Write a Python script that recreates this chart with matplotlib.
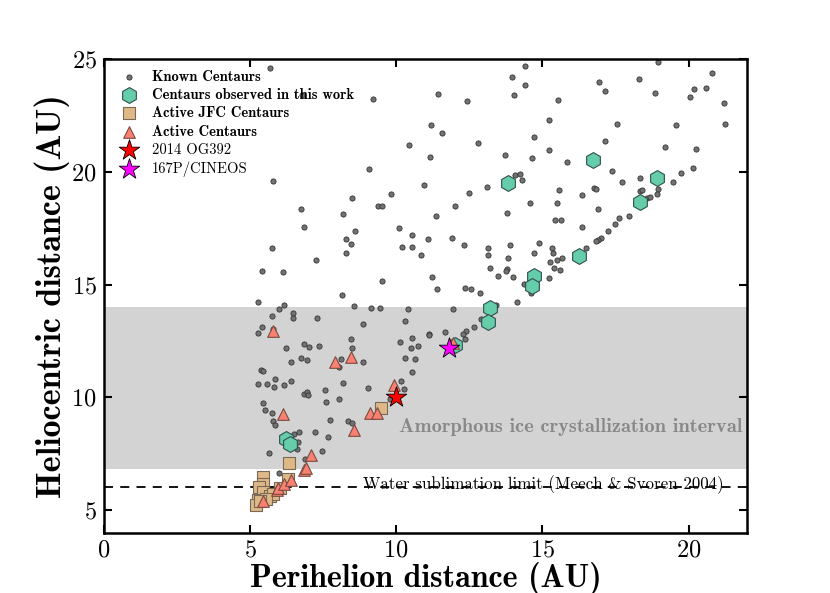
import numpy as np
import matplotlib
matplotlib.use("Agg")
import matplotlib.pyplot as plt

plt.rcParams['mathtext.fontset'] = 'cm'
plt.rcParams['axes.formatter.use_mathtext'] = True

# known centaurs (perihelion AU, heliocentric distance AU)
known_q = [14.41, 18.94, 20.79, 13.95, 16.94, 18.31, 20.18, 20.60, 11.44, 14.40, 17.13, 18.85, 20.06, 14.03,
           21.23, 12.43, 15.55, 15.23, 17.56, 19.56, 21.26, 11.18, 11.58, 14.70, 12.80, 17.15, 19.19, 20.26,
           11.15, 13.71, 15.23, 14.65, 15.83, 17.39, 20.17, 19.74, 14.08, 14.25, 14.29, 17.72, 18.35, 19.48,
           10.96, 13.11, 15.58, 16.77, 16.82, 18.33, 18.42, 18.95, 12.49, 16.34, 18.91, 18.58, 18.67, 14.58,
           15.51, 12.00, 13.80, 16.89, 11.36, 15.42, 15.65, 17.97, 17.63, 17.49, 16.36, 17.25, 11.08, 11.90,
           16.99, 16.91, 16.82, 12.31, 13.89, 14.90, 16.51, 10.85, 13.13, 13.13, 15.34, 15.38, 13.83, 14.71,
           15.67, 15.49, 15.26, 13.21, 13.79, 13.75, 11.22, 13.49, 13.99, 15.41, 15.59, 15.24, 14.39, 14.62,
           11.39, 12.37, 12.57, 12.88, 14.12, 11.94, 13.40, 12.89, 12.65, 12.40, 12.28, 12.34, 11.12, 11.66,
           5.68, 9.20, 10.44, 9.06, 5.80, 9.81, 8.49, 9.38, 9.52, 6.75, 8.17, 6.85, 8.60, 10.09, 10.53, 6.77,
           8.28, 8.45, 5.75, 7.27, 8.28, 5.42, 6.14,
           10.19, 10.54, 9.51, 8.16, 5.28, 6.17, 6.00, 8.56, 9.14, 9.45, 10.40, 5.75, 6.48, 6.48, 7.30, 10.31,
           8.88, 5.41, 5.26, 5.79, 11.11, 10.53, 8.45, 10.13, 10.74, 10.50, 8.48, 6.86, 7.03, 7.35, 6.24, 10.30,
           10.64, 8.11, 8.03, 6.75, 6.96, 8.88, 6.40, 10.55, 5.37, 5.45, 5.84, 5.29, 5.58, 5.82, 6.18, 6.42,
           8.19, 10.16, 10.27, 9.04, 6.84, 6.94, 7.00, 7.55, 9.80, 8.04, 7.59, 5.43, 5.52, 5.77, 7.73, 8.34,
           8.50, 5.80, 5.84,
           6.52, 6.67, 6.65, 6.62, 7.23, 7.67, 5.65, 7.46, 6.89, 5.98, 12.13]
known_r = [24.71, 24.88, 24.37, 24.21, 24.01, 24.12, 23.68, 23.72, 23.47, 23.87, 23.59, 23.50, 23.31, 23.41,
           23.07, 23.16, 23.20, 22.29, 22.11, 22.08, 22.11, 22.08, 21.73, 21.57, 21.27, 21.38, 21.12, 21.00,
           20.68, 20.77, 20.99, 20.60, 20.45, 20.03, 20.19, 19.94, 19.87, 19.93, 19.65, 19.55, 19.72, 19.55,
           19.44, 19.34, 19.21, 19.31, 19.23, 19.16, 19.22, 19.23, 19.06, 19.00, 19.04, 18.84, 18.88, 18.62,
           18.63, 18.48, 18.20, 18.35, 18.04, 17.88, 17.88, 18.03, 17.97, 17.70, 17.54, 17.38, 17.04, 17.08,
           17.07, 17.00, 16.93, 16.77, 16.77, 16.86, 16.62, 16.30, 16.61, 16.32, 16.62, 16.40, 16.18, 16.42,
           16.18, 16.11, 15.99, 15.73, 15.70, 15.61, 15.33, 15.37, 15.34, 15.74, 15.64, 15.31, 15.05, 14.65,
           14.81, 14.84, 14.80, 14.62, 14.21, 13.93, 14.09, 13.47, 13.10, 12.95, 12.79, 12.58, 12.79, 12.89,
           24.63, 23.23, 21.20, 20.15, 19.61, 19.04, 18.84, 18.47, 18.47, 18.34, 18.12, 17.58, 17.36, 17.53,
           17.22, 23.42,
           17.01, 16.80, 16.62, 16.09, 16.39, 15.62, 15.56,
           16.67, 16.69, 15.14, 14.52, 14.25, 14.10, 13.92, 14.04, 13.97, 13.96, 13.90, 13.63, 13.72, 13.51,
           13.53, 13.39, 13.26, 13.12, 12.84, 13.04, 12.77, 12.64, 12.58, 12.44, 12.26, 12.17, 12.17, 12.35,
           12.24, 12.29, 12.20, 11.74, 11.70, 11.71, 11.33, 11.76, 11.65, 11.55, 11.55, 11.11, 11.20, 11.17,
           10.83, 10.58, 10.59, 10.46, 10.55, 10.71, 10.64, 10.73, 10.36, 10.40, 10.15, 10.24, 10.12, 10.33,
           9.92, 9.92, 9.78, 9.74, 9.43, 9.30, 8.99, 8.97, 8.88, 8.96, 8.75,
           8.38, 8.48, 8.01, 7.70, 8.47, 8.26, 7.54, 7.63, 7.27, 6.62, 12.17]

# centaurs observed in this work
obs_q = [16.72, 18.93, 13.84, 18.33, 16.24, 14.73, 14.63, 13.22, 13.14, 12.00, 6.23, 6.37]
obs_r = [20.55, 19.75, 19.52, 18.66, 16.26, 15.40, 14.93, 13.97, 13.34, 12.32, 8.17, 7.94]

# active JFC centaurs
jfc_q = [9.47, 6.33, 5.44, 5.46, 5.31, 5.43, 5.27, 5.20, 5.67, 5.80, 6.31, 6.03, 5.55, 5.34]
jfc_r = [9.52, 7.07, 6.46, 6.17, 6.00, 5.78, 5.43, 5.21, 5.64, 5.73, 6.38, 5.98, 5.49, 5.38]

# active centaurs
act_q = [5.80, 8.45, 7.91, 9.93, 9.11, 9.33, 6.14, 8.56, 7.08, 6.84, 6.92, 5.46, 5.92, 5.97, 6.17, 6.41, 11.94]
act_r = [12.94, 11.77, 11.58, 10.56, 9.32, 9.30, 9.27, 8.53, 7.45, 6.79, 6.86, 5.42, 5.87, 5.98, 6.15, 6.35, 12.39]

og392 = (10.0, 10.0)
p167 = (11.8, 12.2)

ice_band = (6.8, 14.0)
water_limit = 6.0

fig = plt.figure(figsize=(8.3, 5.93), dpi=100)
ax = fig.add_axes([0.125, 0.102, 0.775, 0.798])

ax.axhspan(ice_band[0], ice_band[1], color='#d3d3d3', lw=0, zorder=0)
ax.axhline(water_limit, color='k', ls='--', lw=1.3, dashes=(5, 4), zorder=1)

ax.scatter(known_q, known_r, s=14, c='#727272', edgecolors='#333333', linewidths=0.6,
           label='Known Centaurs', zorder=2)
ax.scatter(obs_q, obs_r, s=130, marker='h', c='#66cdaa', edgecolors='#2f4f4f', linewidths=0.8,
           label='Centaurs observed in this work', zorder=3)
ax.scatter(jfc_q, jfc_r, s=70, marker='s', c='#deb887', edgecolors='#7a6a55', linewidths=0.8,
           label='Active JFC Centaurs', zorder=4)
ax.scatter(act_q, act_r, s=70, marker='^', c='#fa8072', edgecolors='#7a4a40', linewidths=0.8,
           label='Active Centaurs', zorder=5)
ax.scatter([og392[0]], [og392[1]], s=240, marker='*', c='red', edgecolors='k', linewidths=0.6,
           label='2014 OG392', zorder=6)
ax.scatter([p167[0]], [p167[1]], s=240, marker='*', c='magenta', edgecolors='k', linewidths=0.6,
           label='167P/CINEOS', zorder=7)

ax.text(21.85, 8.7, 'Amorphous ice crystallization interval', ha='right', va='center',
        color='#888888', fontsize=14.7, family=['cmb10', 'DejaVu Serif'], zorder=1)
ax.text(21.2, 6.12, 'Water sublimation limit (Meech & Svoren 2004)', ha='right', va='center',
        color='k', fontsize=12.2, family=['cmr10', 'DejaVu Serif'], zorder=1)

ax.set_xlim(0, 22)
ax.set_ylim(4, 25)
ax.set_xticks([0, 5, 10, 15, 20])
ax.set_yticks([5, 10, 15, 20, 25])
ax.set_xlabel('Perihelion distance (AU)', fontsize=23, family=['cmb10', 'DejaVu Serif'], labelpad=0)
ax.set_ylabel('Heliocentric distance (AU)', fontsize=24.5, family=['cmb10', 'DejaVu Serif'], labelpad=1)
ax.tick_params(direction='in', length=6, width=1.5, top=True, right=True, labelsize=17.5, pad=5)
for lab in ax.get_xticklabels() + ax.get_yticklabels():
    lab.set_family(['cmr10', 'DejaVu Serif'])
for sp in ax.spines.values():
    sp.set_linewidth(1.8)

leg = ax.legend(loc='upper left', frameon=False, scatterpoints=1, fontsize=10.5,
                borderaxespad=0.3, handletextpad=0.6, labelspacing=0.3)
for i, t in enumerate(leg.get_texts()):
    t.set_family(['cmb10', 'DejaVu Serif'] if i < 4 else ['cmr10', 'DejaVu Serif'])

fig.savefig('out.png', dpi=100)
